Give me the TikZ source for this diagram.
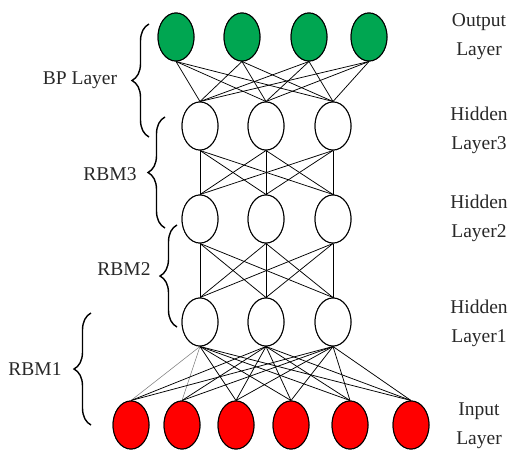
\documentclass[tikz,border=0pt]{standalone}
\usepackage{fontspec}
\setmainfont{Liberation Serif}
\usetikzlibrary{shapes.geometric,decorations.pathreplacing}
\definecolor{outgreen}{RGB}{0,166,81}
\definecolor{inred}{RGB}{255,0,0}
\definecolor{labelgray}{RGB}{40,40,40}
\begin{document}
\begin{tikzpicture}[x=1pt,y=-1pt,
  unit/.style={ellipse,draw=black,line width=1pt,minimum width=36pt,minimum height=48pt,inner sep=0pt},
  outunit/.style={unit,fill=outgreen},
  hidunit/.style={unit,fill=white},
  inunit/.style={unit,fill=inred},
  link/.style={line width=0.75pt,black},
  faint/.style={line width=0.55pt,black!50},
  layername/.style={align=center,text=labelgray,font=\fontsize{19.5}{29}\selectfont},
  groupname/.style={text=labelgray,font=\fontsize{19.5}{22}\selectfont},
  groupbrace/.style={decorate,decoration={brace,amplitude=17pt},line width=1.4pt,black}
]
\useasboundingbox (0,0) rectangle (518,452);

% connections first, so the units cover their ends
\foreach \i/\x in {1/176,2/242,3/309,4/369}
  \coordinate (o\i) at (\x,37);
\foreach \i/\x in {1/200,2/266,3/333}{
  \coordinate (ha\i) at (\x,126);
  \coordinate (hb\i) at (\x,219);
  \coordinate (hc\i) at (\x,322);
}
\foreach \i/\x in {1/131,2/182,3/236,4/291,5/350,6/411}
  \coordinate (in\i) at (\x,425);

% output layer
\foreach \i in {1,...,4}
  \node[outunit] (no\i) at (o\i) {};
% hidden layers
\foreach \i in {1,2,3}{
  \node[hidunit] (nha\i) at (ha\i) {};
  \node[hidunit] (nhb\i) at (hb\i) {};
  \node[hidunit] (nhc\i) at (hc\i) {};
}
% input layer
\foreach \i in {1,...,6}
  \node[inunit] (nin\i) at (in\i) {};

% connections between neighbouring layers
\foreach \i in {1,...,4}
  \foreach \j in {1,2,3}
    \draw[link] (no\i.south) -- (nha\j.north);
\foreach \i in {1,2,3}
  \foreach \j in {1,2,3}{
    \draw[link] (nha\i.south) -- (nhb\j.north);
    \draw[link] (nhb\i.south) -- (nhc\j.north);
  }
\foreach \i in {1,2,3}
  \foreach \j in {1,...,6}{
    \ifnum\i\j<13
      \draw[faint] (nhc\i.south) -- (nin\j.north);
    \else
      \draw[link] (nhc\i.south) -- (nin\j.north);
    \fi
  }

% units drawn again over the line ends
\foreach \i in {1,...,4}
  \node[outunit] at (o\i) {};
\foreach \i in {1,2,3}{
  \node[hidunit] at (ha\i) {};
  \node[hidunit] at (hb\i) {};
  \node[hidunit] at (hc\i) {};
}
\foreach \i in {1,...,6}
  \node[inunit] at (in\i) {};

% layer names on the right
\node[layername] (tout) at (479,37) {Output\\Layer};
\node[layername] (th3) at (479,130) {Hidden\\Layer3};
\node[layername] (th2) at (479,218) {Hidden\\Layer2};
\node[layername] (th1) at (479,323) {Hidden\\Layer1};
\node[layername] (tin) at (479,426) {Input\\Layer};

% braces grouping the layers
\coordinate (bpb) at (149,137);  \coordinate (bpt) at (149,24);
\coordinate (r3b) at (165,228);  \coordinate (r3t) at (165,117);
\coordinate (r2b) at (177,327);  \coordinate (r2t) at (177,225);
\coordinate (r1b) at (91,425);   \coordinate (r1t) at (91,313);
\draw[groupbrace] (bpb) -- (bpt);
\draw[groupbrace] (r3b) -- (r3t);
\draw[groupbrace] (r2b) -- (r2t);
\draw[groupbrace] (r1b) -- (r1t);

\node[groupname] (lbp) at (80,80) {BP Layer};
\node[groupname] (lr3) at (110,174) {RBM3};
\node[groupname] (lr2) at (124,269) {RBM2};
\node[groupname] (lr1) at (35,369) {RBM1};
\end{tikzpicture}
\end{document}
